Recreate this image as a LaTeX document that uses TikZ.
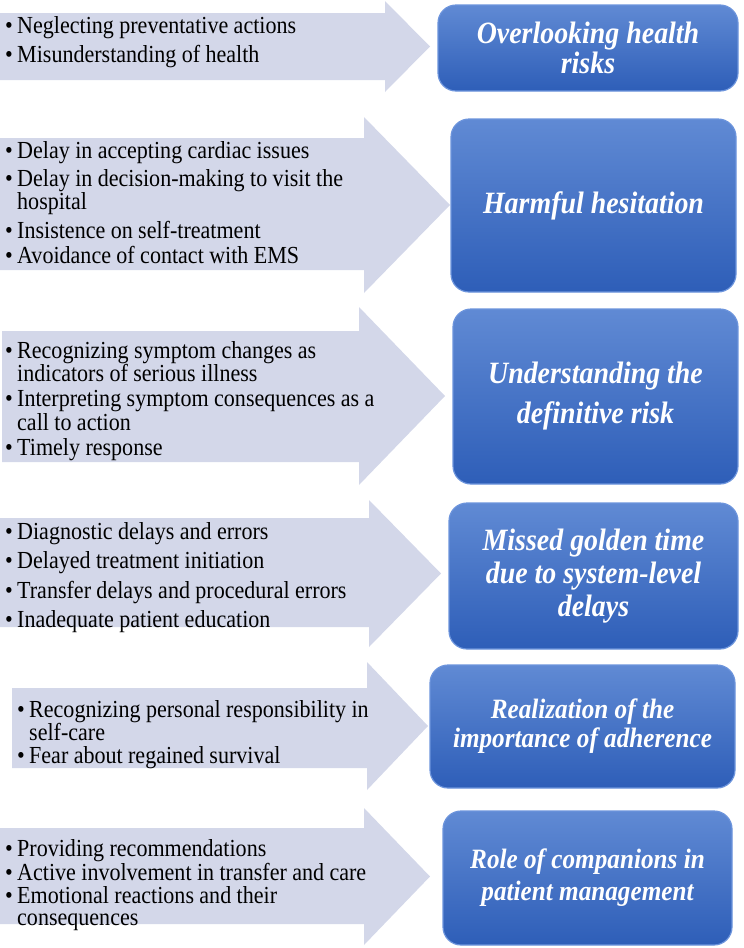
\documentclass[tikz,border=0pt]{standalone}
\usepackage{fontspec}
\setmainfont[FakeStretch=0.9]{Liberation Serif}
\usetikzlibrary{positioning,calc}
\definecolor{bandfill}{RGB}{211,215,233}
\definecolor{themetop}{RGB}{96,138,212}
\definecolor{themebot}{RGB}{46,94,184}
\definecolor{themeedge}{RGB}{108,148,220}
\newlength\itemgap
\newcommand{\bulitem}[1]{\par\raggedright\parskip=0pt\spaceskip=5.4pt plus 1pt minus 1pt
  \hangindent=12pt\hangafter=1\noindent
  \makebox[12pt][l]{\textbullet}#1\par\vskip\itemgap}
\tikzset{
  band/.style={fill=bandfill,draw=none},
  theme/.style={rounded corners=18pt,top color=themetop,bottom color=themebot,
                draw=themeedge,line width=1.2pt,text=white,align=center,
                inner sep=0pt,font=\fontsize{31}{33}\selectfont\bfseries\itshape},
  points/.style={anchor=north west,inner sep=0pt,text width=430pt,
                 font=\fontsize{24.5}{20}\selectfont},
}
\begin{document}
\begin{tikzpicture}[x=1pt,y=-1pt]
  \useasboundingbox (0,0) rectangle (744,948);
  % --- lavender block arrows ---
  \foreach \lx/\bodyt/\bodyb/\neck/\headt/\headb/\tipx in
    {0/13/80/385/1/92/430, 0/138/270/364/117/293/450, 2/331/462/359/307/485/445,
     0/518/627/369/500/647/441, 12/688/768/367/662/790/428, 0/828/924/364/808/945/430} {
    \pgfmathsetmacro\tipy{(\headt+\headb)/2}
    \fill[band] (\lx,\bodyt) -- (\neck,\bodyt) -- (\neck,\headt) -- (\tipx,\tipy)
      -- (\neck,\headb) -- (\neck,\bodyb) -- (\lx,\bodyb) -- cycle;
  }
  % --- theme boxes ---
  \node[theme,minimum width=300pt,minimum height=86pt,
        font=\fontsize{31}{30}\selectfont\bfseries\itshape] (th1) at (588,48)
    {Overlooking health\\risks};
  \node[theme,minimum width=285pt,minimum height=173pt] (th2) at (593.5,205.5)
    {Harmful hesitation};
  \node[theme,minimum width=285pt,minimum height=175pt,
        font=\fontsize{31}{40}\selectfont\bfseries\itshape] (th3) at (595.5,396.5)
    {Understanding the\\definitive risk};
  \node[theme,minimum width=289pt,minimum height=146pt] (th4) at (593.5,576)
    {Missed golden time\\due to system-level\\delays};
  \node[theme,minimum width=305pt,minimum height=123pt,
        font=\fontsize{28}{29}\selectfont\bfseries\itshape] (th5) at (582.5,726.5)
    {Realization of the\\importance of adherence};
  \node[theme,minimum width=289pt,minimum height=134pt,
        font=\fontsize{28}{32}\selectfont\bfseries\itshape] (th6) at (587.5,878)
    {Role of companions in\\patient management};
  % --- bullet points inside the arrows ---
  \node[points] (pt1) at (5,13) {\setlength\itemgap{6pt}%
    \bulitem{Neglecting preventative actions}
    \bulitem{Misunderstanding of health}};
  \node[points] (pt2) at (5,138) {\setlength\itemgap{5pt}%
    \bulitem{Delay in accepting cardiac issues}
    \bulitem{Delay in decision-making to visit the\newline hospital}
    \bulitem{Insistence on self-treatment}
    \bulitem{Avoidance of contact with EMS}};
  \node[points] (pt3) at (5,338) {\setlength\itemgap{5pt}%
    \bulitem{Recognizing symptom changes as\newline indicators of serious illness}
    \bulitem{Interpreting symptom consequences as a\newline call to action}
    \bulitem{Timely response}};
  \node[points] (pt4) at (5,519) {\setlength\itemgap{6pt}%
    \bulitem{Diagnostic delays and errors}
    \bulitem{Delayed treatment initiation}
    \bulitem{Transfer delays and procedural errors}
    \bulitem{Inadequate patient education}};
  \node[points,font=\fontsize{24.5}{21}\selectfont] (pt5) at (17,696) {\setlength\itemgap{2pt}%
    \bulitem{Recognizing personal responsibility in\newline self-care}
    \bulitem{Fear about regained survival}};
  \node[points,font=\fontsize{24.5}{22}\selectfont] (pt6) at (5,834) {\setlength\itemgap{1pt}%
    \bulitem{Providing recommendations}
    \bulitem{Active involvement in transfer and care}
    \bulitem{Emotional reactions and their\newline consequences}};
\end{tikzpicture}
\end{document}
